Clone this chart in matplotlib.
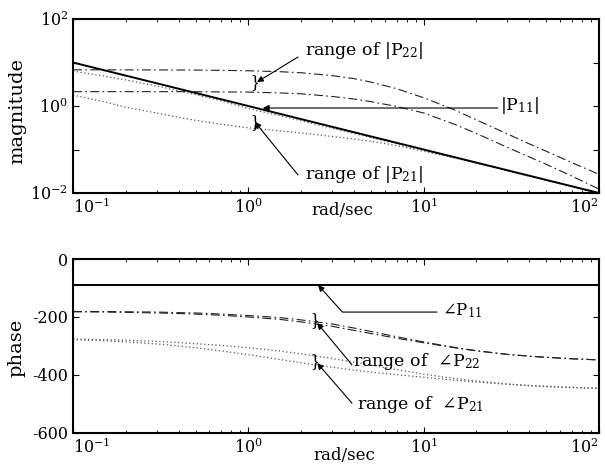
import matplotlib
matplotlib.use("Agg")
import matplotlib.pyplot as plt
from matplotlib.ticker import FixedLocator, NullLocator
import numpy as np

plt.rcParams["font.family"] = "DejaVu Serif"
plt.rcParams["mathtext.fontset"] = "dejavuserif"
plt.rcParams["axes.unicode_minus"] = False

# frequency grid (rad/sec) shared by the uncertain plant curves
freq = np.array([0.1, 0.15, 0.2, 0.3, 0.4, 0.5, 0.7, 1, 1.5, 2, 3, 4, 5, 7,
                 10, 15, 20, 30, 40, 50, 70, 100])

# |P11| and angle P11 (integrator)
freq_p11 = np.array([0.1, 100])
mag_p11 = np.array([10.0, 0.01])
phase_p11 = np.array([-90, -90])

# range of |P22| (upper / lower bound)
mag_p22_hi = np.array([6.79, 6.78, 6.78, 6.76, 6.73, 6.70, 6.61, 6.46, 6.17, 5.82, 5.01, 4.27,
                       3.55, 2.51, 1.55, 0.813, 0.479, 0.229, 0.135, 0.0912, 0.0501, 0.0269])
mag_p22_lo = np.array([2.14, 2.14, 2.14, 2.14, 2.14, 2.13, 2.11, 2.09, 2.0, 1.91, 1.66, 1.45,
                       1.26, 0.977, 0.692, 0.380, 0.234, 0.112, 0.0676, 0.0457, 0.0245, 0.0123])

# range of |P21|
mag_p21_hi = np.array([6.31, 4.9, 3.98, 2.88, 2.24, 1.82, 1.32, 0.871, 0.603, 0.457, 0.309, 0.234,
                       0.188, 0.136, 0.0966, 0.0646, 0.049, 0.0327, 0.0245, 0.0197, 0.0141, 0.00989])
mag_p21_lo = np.array([1.78, 1.26, 0.933, 0.692, 0.55, 0.468, 0.38, 0.316, 0.269, 0.24, 0.2, 0.174,
                       0.155, 0.123, 0.0912, 0.0646, 0.049, 0.0327, 0.0245, 0.0197, 0.0141, 0.00989])

# range of angle P22 / angle P21 (degrees)
phase_p22_hi = np.array([-181, -181, -182, -183, -185, -186, -190, -195, -202, -210, -224, -238,
                         -250, -268, -286, -305, -316, -329, -335, -339, -344, -348])
phase_p22_lo = np.array([-182, -183, -184, -186, -188, -190, -194, -200, -208, -217, -232, -246,
                         -257, -273, -289, -306, -317, -329, -335, -339, -344, -348])
phase_p21_hi = np.array([-276, -278, -280, -284, -288, -292, -298, -306, -317, -327, -343, -356,
                         -366, -381, -397, -412, -421, -431, -436, -439, -443, -446])
phase_p21_lo = np.array([-278, -282, -286, -293, -300, -306, -317, -330, -346, -358, -373, -383,
                         -390, -399, -408, -418, -424, -432, -437, -440, -443, -446])

dashdot = (0, (8, 3, 1.5, 3))
dotted = (0, (1, 2))

fig = plt.figure(figsize=(6.05, 4.71), dpi=100)
ax1 = fig.add_axes([0.1207, 0.5902, 0.8694, 0.3694])
ax2 = fig.add_axes([0.1207, 0.0807, 0.8694, 0.3694])

# ---- magnitude ----
ax1.loglog(freq, mag_p21_hi, color="#555555", lw=0.9, ls=dotted)
ax1.loglog(freq, mag_p21_lo, color="#555555", lw=0.9, ls=dotted)
ax1.loglog(freq, mag_p22_hi, color="#222222", lw=0.8, ls=dashdot)
ax1.loglog(freq, mag_p22_lo, color="#222222", lw=0.8, ls=dashdot)
ax1.loglog(freq_p11, mag_p11, color="black", lw=1.4)
ax1.set_xlim(0.1, 100)
ax1.set_ylim(1e-2, 1e2)
ax1.yaxis.set_major_locator(FixedLocator([1e-2, 1e-1, 1, 1e1, 1e2]))
ax1.yaxis.set_minor_locator(NullLocator())
ax1.set_yticklabels([r"$\mathregular{10^{-2}}$", "", r"$\mathregular{10^{0}}$", "", r"$\mathregular{10^{2}}$"])
ax1.set_ylabel("magnitude", fontsize=14)
ax1.yaxis.set_label_coords(-0.088, 0.47)

# ---- phase ----
ax2.semilogx(freq, phase_p21_hi, color="#555555", lw=0.9, ls=dotted)
ax2.semilogx(freq, phase_p21_lo, color="#555555", lw=0.9, ls=dotted)
ax2.semilogx(freq, phase_p22_hi, color="#222222", lw=0.8, ls=dashdot)
ax2.semilogx(freq, phase_p22_lo, color="#222222", lw=0.8, ls=dashdot)
ax2.semilogx(freq_p11, phase_p11, color="black", lw=1.4)
ax2.set_xlim(0.1, 100)
ax2.set_ylim(-600, 0)
ax2.set_yticks([-600, -400, -200, 0])
ax2.set_ylabel("phase", fontsize=14)
ax2.yaxis.set_label_coords(-0.09, 0.49)

for ax in (ax1, ax2):
    ax.xaxis.set_major_locator(FixedLocator([0.1, 1, 10, 100]))
    ax.set_xticklabels([r"$\mathregular{10^{-1}}$", r"$\mathregular{10^{0}}$",
                        r"$\mathregular{10^{1}}$", r"$\mathregular{10^{2}}$"])
    ax.tick_params(which="both", direction="in", top=True, right=True, labelsize=11.5)
    ax.tick_params(which="major", length=4, width=0.8)
    ax.tick_params(which="minor", length=2.5, width=0.6)
    labels = ax.get_xticklabels()
    labels[0].set_horizontalalignment("left")
    labels[-1].set_horizontalalignment("right")
    for s in ax.spines.values():
        s.set_linewidth(1.5)

ax1.set_xlabel("rad/sec", fontsize=12)
ax1.xaxis.set_label_coords(0.513, -0.05)
ax2.set_xlabel("rad/sec", fontsize=12)
ax2.xaxis.set_label_coords(0.515, -0.08)

arrow = dict(arrowstyle="-|>", color="black", lw=0.8, mutation_scale=9, shrinkA=0, shrinkB=0)
txt = dict(fontsize=12.5, ha="left", va="center")
brace = dict(fontsize=13, ha="center", va="center", family="Liberation Serif")

# annotations: magnitude
ax1.text(1.08, 3.38, "}", **brace)
ax1.text(1.08, 0.42, "}", **brace)
ax1.annotate("", xy=(1.12, 3.56), xytext=(1.92, 13.4), arrowprops=arrow)
ax1.text(2.1, 19.4, r"range of $|\mathrm{P}_{22}|$", **txt)
ax1.annotate("", xy=(1.21, 0.9), xytext=(26.5, 0.9), arrowprops=arrow)
ax1.text(27.3, 1.05, r"$|\mathrm{P}_{11}|$", **txt)
ax1.annotate("", xy=(1.09, 0.43), xytext=(1.92, 0.026), arrowprops=arrow)
ax1.text(2.1, 0.026, r"range of $|\mathrm{P}_{21}|$", **txt)

# annotations: phase
ax2.text(2.39, -212, "}", **brace)
ax2.text(2.39, -353, "}", **brace)
elbow = dict(arrow, connectionstyle="angle,angleA=0,angleB=-48,rad=0")
ax2.annotate("", xy=(2.5, -90), xytext=(11.9, -183), arrowprops=elbow)
ax2.text(12.7, -179, r"$\angle\mathrm{P}_{11}$", fontsize=12, ha="left", va="center")
ax2.annotate("", xy=(2.47, -221), xytext=(3.9, -365), arrowprops=arrow)
ax2.text(3.96, -355, r"range of  $\angle\mathrm{P}_{22}$", **txt)
ax2.annotate("", xy=(2.47, -359), xytext=(3.9, -497), arrowprops=arrow)
ax2.text(4.17, -503, r"range of  $\angle\mathrm{P}_{21}$", **txt)

fig.savefig("out.png", dpi=100)
